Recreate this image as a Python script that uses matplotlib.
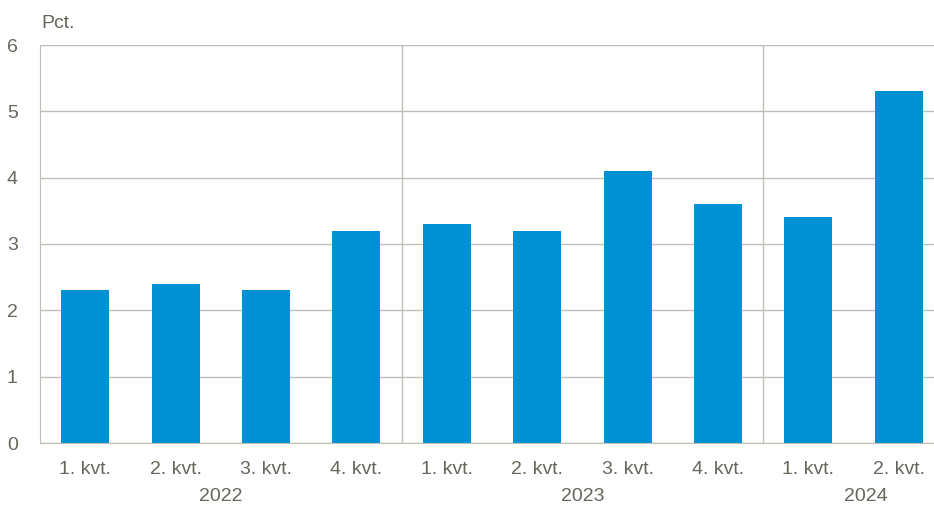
import matplotlib
matplotlib.use("Agg")
import matplotlib.pyplot as plt
from matplotlib import font_manager

quarters = ["1. kvt.", "2. kvt.", "3. kvt.", "4. kvt.",
            "1. kvt.", "2. kvt.", "3. kvt.", "4. kvt.",
            "1. kvt.", "2. kvt."]
values = [2.3, 2.4, 2.3, 3.2, 3.3, 3.2, 4.1, 3.6, 3.4, 5.3]
years = ["2022", "2023", "2024"]
year_pos = [1.5, 5.5, 8.64]
separators = [3.5, 7.5]
yticks = [0, 1, 2, 3, 4, 5, 6]

names = {f.name for f in font_manager.fontManager.ttflist}
fam = [f for f in ["Liberation Sans Narrow", "Liberation Sans", "DejaVu Sans"] if f in names]
plt.rcParams['font.family'] = fam

txt = "#66665C"
grid = "#BEBEB4"
bar_c = "#0091D5"

fig = plt.figure(figsize=(9.34, 5.05), dpi=100)
ax = fig.add_axes([40/934, 62/505, 904/934, 398/505])

x = list(range(len(values)))
ax.bar(x, values, width=0.53, color=bar_c, zorder=3)
ax.set_xlim(-0.5, len(values) - 0.5)
ax.set_ylim(0, 6)
ax.set_yticks(yticks)
ax.yaxis.grid(True, color=grid, linewidth=1, zorder=0)
for s in separators:
    ax.axvline(s, color=grid, linewidth=1, zorder=1)

for sp in ["top", "right"]:
    ax.spines[sp].set_visible(False)
ax.spines["left"].set_color(grid)
ax.spines["bottom"].set_color(grid)
ax.spines["left"].set_zorder(4)
ax.spines["bottom"].set_zorder(4)

ax.set_xticks(x)
ax.set_xticklabels(quarters)
ax.tick_params(axis="both", length=0, colors=txt, labelsize=14)
ax.tick_params(axis="x", pad=13)
ax.tick_params(axis="y", pad=16)

for yr, p in zip(years, year_pos):
    ax.text(p, -0.8, yr, ha="center", va="center", color=txt, fontsize=14,
            transform=ax.transData, clip_on=False)

fig.text(41/934, 1 - 23/505, "Pct.", ha="left", va="center", color=txt, fontsize=14)

fig.savefig("out.png", dpi=100)
